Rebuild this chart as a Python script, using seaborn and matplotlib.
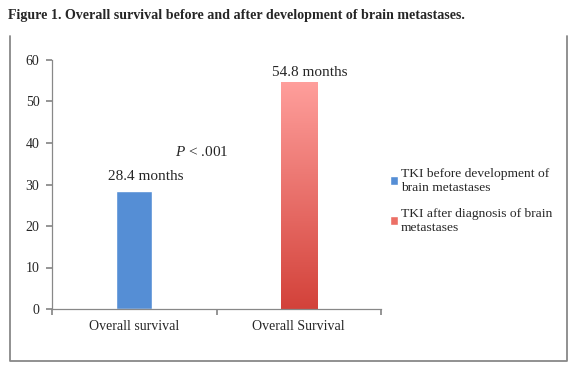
import matplotlib
matplotlib.use("Agg")
import matplotlib.pyplot as plt
import numpy as np
import pandas as pd
import seaborn as sns
from matplotlib.colors import LinearSegmentedColormap
from matplotlib.lines import Line2D
from matplotlib.transforms import offset_copy

# Datos
categorias = ["Overall survival", "Overall Survival"]
grupos = ["TKI before development of\nbrain metastases",
          "TKI after diagnosis of brain\nmetastases"]
meses = [28.4, 54.8]
etiquetas = ["28.4 months", "54.8 months"]
y_ticks = [0, 10, 20, 30, 40, 50, 60]

df = pd.DataFrame({"categoria": categorias, "grupo": grupos, "meses": meses})

sns.set_theme(style="white")
plt.rcParams["font.family"] = ["Liberation Serif", "DejaVu Serif"]
plt.rcParams["mathtext.fontset"] = "custom"
plt.rcParams["mathtext.it"] = "Liberation Serif:italic"
plt.rcParams["mathtext.rm"] = "Liberation Serif"

W, H = 578, 369
fig = plt.figure(figsize=(W / 100, H / 100), dpi=100)
ax = fig.add_axes([52 / W, 1 - 309 / H, (381 - 52) / W, (309 - 60) / H])

azul = "#558ed5"
rojo = "#ec6f66"
sns.barplot(data=df, x="categoria", y="meses", hue="grupo",
            palette=[azul, rojo], dodge=False, width=0.22, saturation=1,
            ax=ax, legend=True)

# degradado en la barra roja
grad = LinearSegmentedColormap.from_list("rojo", ["#d3423a", "#ff9f9c"])
barra = ax.patches[1]
bx, by = barra.get_x(), barra.get_y()
bw, bh = barra.get_width(), barra.get_height()
img = ax.imshow(np.linspace(0, 1, 256).reshape(-1, 1), cmap=grad,
                origin="lower", aspect="auto",
                extent=[bx, bx + bw, by, by + bh], zorder=barra.get_zorder())
img.set_clip_path(barra)
barra.set_facecolor("none")

ax.set_xlim(-0.5, 1.5)
ax.set_ylim(0, 60)
ax.set_yticks(y_ticks)
ax.set_xticks([-0.5, 0.5, 1.5], minor=False)
ax.set_xticklabels([])
ax.set_xticks([0, 1], minor=True)
ax.set_xticklabels(categorias, minor=True)
ax.tick_params(axis="x", which="major", length=4, color="#888888", direction="out", bottom=True)
ax.tick_params(axis="x", which="minor", length=0, pad=8, labelsize=10)
ax.tick_params(axis="y", length=4, color="#888888", direction="out", left=True, labelsize=10, pad=5)
ax.set_xlabel("")
ax.set_ylabel("")
for lado in ["top", "right"]:
    ax.spines[lado].set_visible(False)
for lado in ["left", "bottom"]:
    ax.spines[lado].set_color("#888888")
    ax.spines[lado].set_linewidth(0.9)

# etiquetas de valor (un poco desplazadas a la derecha, como en el original)
desplaz = offset_copy(ax.transData, fig=fig, x=11, y=0, units="dots")
ax.text(0, 31.9, etiquetas[0], ha="center", va="center", fontsize=11, transform=desplaz)
ax.text(1, 56.9, etiquetas[1], ha="center", va="center", fontsize=11, transform=desplaz)

ax.text(0.41, 37.8, "$P$ < .001", ha="center", va="center", fontsize=11)

leg = ax.legend(loc="center left", bbox_to_anchor=(1.01, 0.435), frameon=False,
                fontsize=9.7, handlelength=0.6, handleheight=0.6,
                handletextpad=0.25, labelspacing=1.05, borderaxespad=0)
leg.legend_handles[1].set_facecolor(rojo)

fig.text(8 / W, 1 - 15 / H, "Figure 1. Overall survival before and after development of brain metastases.",
         fontsize=10.1, fontweight="bold", va="center", ha="left")

# marco sin lado superior
xs = [10 / W, 10 / W, 567 / W, 567 / W]
ys = [1 - 36 / H, 1 - 361 / H, 1 - 361 / H, 1 - 36 / H]
fig.add_artist(Line2D(xs, ys, transform=fig.transFigure, color="#888888", linewidth=1.3))

fig.savefig("out.png", dpi=100)
